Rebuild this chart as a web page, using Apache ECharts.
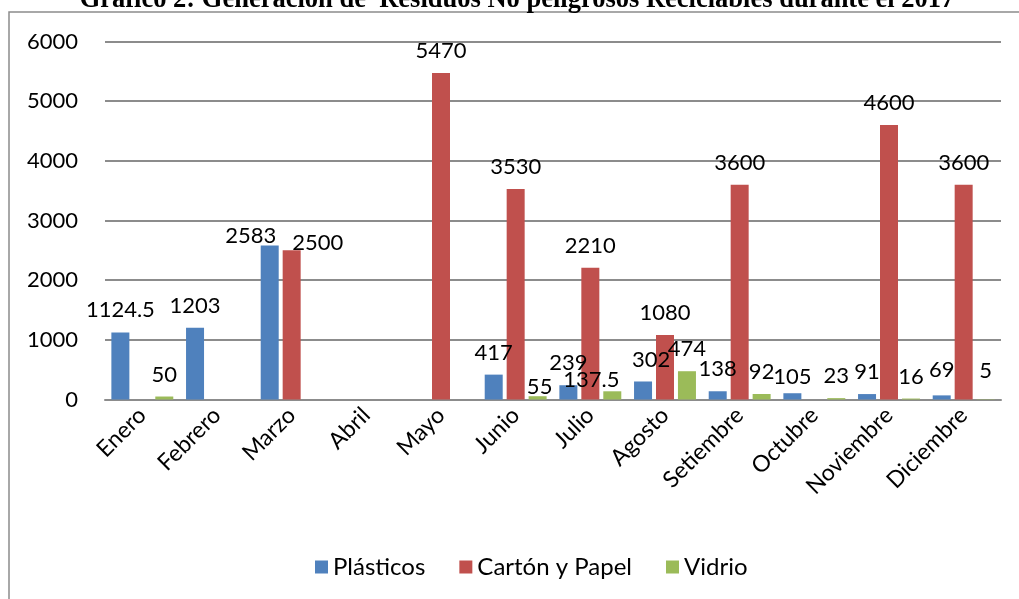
<!DOCTYPE html>
<html>
<head>
<meta charset="utf-8">
<script src="https://cdn.jsdelivr.net/npm/echarts@6/dist/echarts.min.js"></script>
<style>
  html, body { margin: 0; padding: 0; background: #ffffff; }
  #chart { width: 1019px; height: 599px; }
</style>
</head>
<body>
<div id="chart"></div>
<script>
// Monthly recyclable non-hazardous waste, 2017
const months = ['Enero', 'Febrero', 'Marzo', 'Abril', 'Mayo', 'Junio', 'Julio',
  'Agosto', 'Setiembre', 'Octubre', 'Noviembre', 'Diciembre'];
const plasticos = [1124.5, 1203, 2583, null, null, 417, 239, 302, 138, 105, 91, 69];
const carton = [null, null, 2500, null, 5470, 3530, 2210, 1080, 3600, null, 4600, 3600];
const vidrio = [50, null, null, null, null, 55, 137.5, 474, 92, 23, 16, 5];
const yTicks = [0, 1000, 2000, 3000, 4000, 5000, 6000];

const titleText = 'Gráfico 2: Generación de  Residuos No peligrosos Reciclables durante el 2017';
const FONT = 'Lato, "Open Sans", sans-serif';

// small shifts that keep crowded value labels apart
const labelShift = {
  'Plásticos': { 2: [-19, 13], 7: [8, 0], 9: [0, 6], 11: [0, -3] },
  'Cartón y Papel': { 2: [26, 15] },
  'Vidrio': { 5: [2, 13], 6: [-21, 11], 11: [0, -6] }
};

function buildData(name, values) {
  return values.map(function (v, i) {
    const s = labelShift[name][i];
    if (v == null) return { value: null };
    return s ? { value: v, label: { offset: s } } : { value: v };
  });
}

function barSeries(name, values, color) {
  return {
    name: name,
    type: 'bar',
    barWidth: 18,
    barGap: '22%',
    itemStyle: { color: color },
    label: {
      show: true,
      position: 'top',
      distance: 11,
      fontFamily: FONT,
      fontSize: 22,
      color: '#000000'
    },
    data: buildData(name, values)
  };
}

const chart = echarts.init(document.getElementById('chart'), null, { renderer: 'canvas' });
chart.setOption({
  animation: false,
  backgroundColor: '#ffffff',
  graphic: [
    {
      type: 'rect',
      shape: { x: 9, y: 12, width: 1040, height: 620 },
      style: { fill: 'none', stroke: '#8c8c8c', lineWidth: 1.5 },
      silent: true
    },
    {
      type: 'text',
      x: 517,
      y: 14,
      style: {
        text: titleText,
        font: 'bold 26.5px "Liberation Serif", serif',
        fill: '#000000',
        align: 'center',
        verticalAlign: 'bottom'
      }
    }
  ],
  grid: { left: 105, right: 18, top: 41.5, bottom: 199.5, containLabel: false },
  legend: {
    bottom: 15,
    left: 310,
    itemWidth: 13,
    itemHeight: 13,
    itemGap: 34,
    icon: 'rect',
    textStyle: { fontFamily: FONT, fontSize: 24, color: '#000000' },
    data: ['Plásticos', 'Cartón y Papel', 'Vidrio']
  },
  xAxis: {
    type: 'category',
    data: months,
    axisLine: { lineStyle: { color: '#8c8c8c', width: 2 } },
    axisTick: { show: false },
    axisLabel: {
      rotate: 45,
      interval: 0,
      margin: 12,
      fontFamily: FONT,
      fontSize: 23,
      color: '#000000'
    }
  },
  yAxis: {
    type: 'value',
    min: yTicks[0],
    max: yTicks[yTicks.length - 1],
    interval: yTicks[1] - yTicks[0],
    axisLine: { show: false },
    axisTick: { show: false },
    axisLabel: {
      margin: 27,
      fontFamily: FONT,
      fontSize: 22,
      color: '#000000',
      formatter: function (v) { return String(v); }
    },
    splitLine: { lineStyle: { color: '#8c8c8c', width: 2 } }
  },
  series: [
    barSeries('Plásticos', plasticos, '#4F81BD'),
    barSeries('Cartón y Papel', carton, '#C0504D'),
    barSeries('Vidrio', vidrio, '#9BBB59')
  ]
});
</script>
</body>
</html>
